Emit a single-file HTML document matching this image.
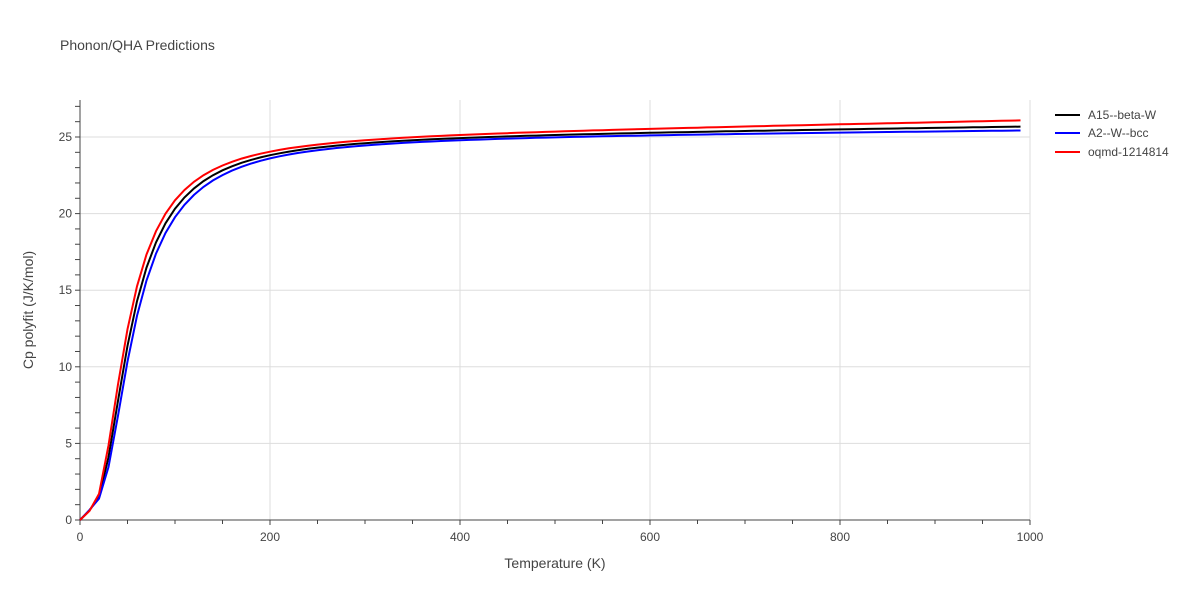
<!DOCTYPE html><html><head><style>body{margin:0;background:#fff}svg{font-family:"Liberation Sans",sans-serif}</style></head><body>
<svg id="s" width="1200" height="600" xmlns="http://www.w3.org/2000/svg">
<text x="60" y="50" font-size="14" fill="#444">Phonon/QHA Predictions</text>
<g stroke="#ddd" stroke-width="1" id="grid"></g>
<g id="ticks" stroke="#444" stroke-width="1"></g>
<line x1="80" y1="100" x2="80" y2="520" stroke="#444"/>
<line x1="80" y1="520" x2="1030" y2="520" stroke="#444"/>
<g id="labels" font-size="12" fill="#444"></g>
<text x="555" y="568" font-size="14" fill="#444" text-anchor="middle">Temperature (K)</text>
<text transform="translate(33,310) rotate(-90)" font-size="14" fill="#444" text-anchor="middle">Cp polyfit (J/K/mol)</text>
<g id="curves" fill="none" stroke-width="2"></g>
<g font-size="12" fill="#444">
<line x1="1055" y1="115" x2="1080" y2="115" stroke="#000" stroke-width="2"/><text x="1088" y="119">A15--beta-W</text>
<line x1="1055" y1="133" x2="1080" y2="133" stroke="#00f" stroke-width="2"/><text x="1088" y="137">A2--W--bcc</text>
<line x1="1055" y1="152" x2="1080" y2="152" stroke="#f00" stroke-width="2"/><text x="1088" y="156">oqmd-1214814</text>
</g>
</svg>
<script>
const NS="http://www.w3.org/2000/svg";
function el(p,t,a){const e=document.createElementNS(NS,t);for(const k in a)e.setAttribute(k,a[k]);document.getElementById(p).appendChild(e);return e;}
const X=t=>80+t*0.95, Y=v=>520-v*15.32;
for(let t=200;t<=1000;t+=200){el("grid","line",{x1:X(t),x2:X(t),y1:100,y2:520});}
for(let v=5;v<=25;v+=5){el("grid","line",{x1:80,x2:1030,y1:Y(v),y2:Y(v)});}
for(let t=0;t<=1000;t+=50){el("ticks","line",{x1:X(t),x2:X(t),y1:520,y2:t%200==0?525:524});}
for(let v=0;v<=27;v++){el("ticks","line",{x1:75,x2:80,y1:Y(v),y2:Y(v)});}
for(let t=0;t<=1000;t+=200){el("labels","text",{x:X(t),y:541,"text-anchor":"middle"}).textContent=t;}
for(let v=0;v<=25;v+=5){el("labels","text",{x:72,y:Y(v)+4,"text-anchor":"end"}).textContent=v;}
function cp(T,th,a){if(T<=0)return 0;const x=th/T;const e=Math.exp(x);const E=x*x*e/((e-1)*(e-1));
return 24.94*E+a*T+ (T<60?0.9*Math.exp(-Math.pow((T-20)/15,2))*(th/150):0);}
[[160,0.0008,"#000"],[170,0.00055,"#00f"],[150,0.0012,"#f00"]].forEach(([th,a,c])=>{
let d="";for(let T=0;T<=990;T+=10){d+=(T?"L":"M")+X(T).toFixed(1)+","+Y(cp(T,th,a)).toFixed(1);}
el("curves","path",{d:d,stroke:c});});
</script>
</body></html>
